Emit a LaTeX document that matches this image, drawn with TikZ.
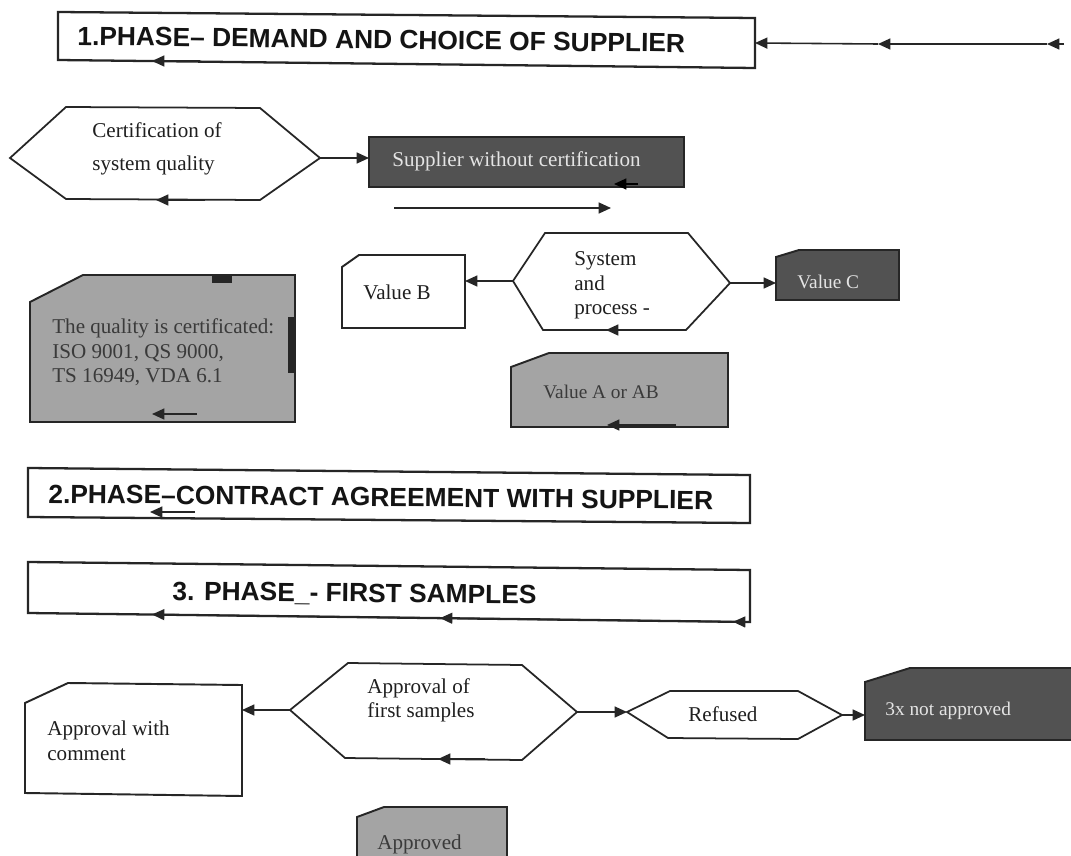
\documentclass[tikz,border=0pt]{standalone}
\usepackage{fontspec}
\setmainfont{Liberation Serif}
\newfontfamily\hdfont{Liberation Sans}
\usetikzlibrary{arrows.meta}
\definecolor{ink}{HTML}{262626}
\definecolor{darkfill}{HTML}{525252}
\definecolor{midfill}{HTML}{A4A4A4}
\definecolor{lighttext}{HTML}{E4E4E4}
\definecolor{midtext}{HTML}{3A3A3A}
\tikzset{
  phasebox/.style={draw=ink, line width=1.3pt, line join=miter},
  box/.style={draw=ink, line width=1.1pt, line join=miter},
  hexa/.style={draw=ink, line width=1pt, line join=miter, fill=white},
  conn/.style={draw=ink, line width=0.9pt, -{Triangle[length=7pt,width=6.2pt]}},
  head/.style={font=\hdfont\bfseries\fontsize{15}{18}\selectfont, anchor=base west, inner sep=0pt, text=black!92},
  lbl/.style={font=\fontsize{12}{14}\selectfont, anchor=base west, inner sep=0pt, text=black!88},
  lbldark/.style={lbl, text=lighttext},
  lblmid/.style={lbl, text=midtext},
  small/.style={font=\fontsize{11}{13}\selectfont},
}
\begin{document}
\begin{tikzpicture}[x=0.02cm,y=-0.02cm]
\useasboundingbox (0,0) rectangle (1071,855);
\clip (0,0) rectangle (1071,855);
\fill[white] (0,0) rectangle (1071,855);

% ---------- Phase 1 ----------
\draw[phasebox] (58,12) -- (755,18) -- (755,68) -- (58,60) -- cycle;
\coordinate (p1e) at (755,43);
\node[head, rotate=-0.7] (p1t) at (77,45) {1.PHASE– DEMAND AND CHOICE OF SUPPLIER};
\coordinate (r1) at (1064,44);
\coordinate (r2) at (1047,44);
\coordinate (r3) at (878,44);
\draw[conn] (r1) -- (r2);
\draw[conn] (r2) -- (r3);
\draw[conn] (r3) -- (p1e);
\coordinate (p1a) at (200,61);
\coordinate (p1b) at (152,61);
\draw[conn] (p1a) -- (p1b);

% ---------- Hexagon A ----------
\draw[hexa] (10,158) coordinate (hAw) -- (66,107) -- (260,108) -- (320,158) coordinate (hAe)
  -- (260,200) -- (66,199) -- cycle;
\node[lbl] (hAt1) at (92,137) {Certification of};
\node[lbl] (hAt2) at (92,170) {system quality};
\coordinate (hAa) at (205,200);
\coordinate (hAb) at (156,200);
\draw[conn] (hAa) -- (hAb);

% ---------- Supplier box ----------
\draw[box, fill=darkfill] (369,137) rectangle (684,187);
\coordinate (supw) at (369,158);
\node[lbldark] (supt) at (392,166) {Supplier without certification};
\coordinate (supa) at (638,184);
\coordinate (supb) at (614,184);
\draw[conn, draw=black] (supa) -- (supb);
\draw[conn] (hAe) -- (supw);
\coordinate (u1) at (394,208);
\coordinate (u2) at (611,208);
\draw[conn] (u1) -- (u2);

% ---------- Hexagon B ----------
\draw[hexa] (513,281) coordinate (hBw) -- (545,233) -- (688,233) -- (730,283) coordinate (hBe)
  -- (686,330) -- (543,330) -- cycle;
\node[lbl] (hBt1) at (574,265) {System};
\node[lbl] (hBt2) at (574,290) {and};
\node[lbl] (hBt3) at (574,314) {process -};
\coordinate (hBa) at (652,330);
\coordinate (hBb) at (606,330);
\draw[conn] (hBa) -- (hBb);

% ---------- Value B ----------
\draw[box, fill=white] (342,267) -- (359,255) -- (465,255) -- (465,328) -- (342,328) -- cycle;
\coordinate (vBe) at (465,281);
\node[lbl] (vBt) at (363,299) {Value B};
\draw[conn] (hBw) -- (vBe);

% ---------- Value C ----------
\draw[box, fill=darkfill] (776,257) -- (799,250) -- (899,250) -- (899,300) -- (776,300) -- cycle;
\coordinate (vCw) at (776,283);
\node[lbldark, small] (vCt) at (797,288) {Value C};
\draw[conn] (hBe) -- (vCw);

% ---------- Value A or AB ----------
\draw[box, fill=midfill] (511,367) -- (549,353) -- (728,353) -- (728,427) -- (511,427) -- cycle;
\node[lblmid, small] (vAt) at (543,398) {Value A or AB};
\coordinate (vAa) at (676,425);
\coordinate (vAb) at (607,425);
\draw[conn] (vAa) -- (vAb);

% ---------- Quality box ----------
\draw[box, fill=midfill] (30,302) -- (83,275) -- (295,275) -- (295,422) -- (30,422) -- cycle;
\fill[ink] (212,274) rectangle (232,283);
\fill[ink] (288,317) rectangle (296,373);
\node[lblmid] (qt1) at (52,333) {The quality is certificated:};
\node[lblmid] (qt2) at (52,358) {ISO 9001, QS 9000,};
\node[lblmid] (qt3) at (52,382) {TS 16949, VDA 6.1};
\coordinate (qa) at (197,414);
\coordinate (qb) at (152,414);
\draw[conn] (qa) -- (qb);

% ---------- Phase 2 ----------
\draw[phasebox] (28,468) -- (750,475) -- (750,523) -- (28,517) -- cycle;
\node[head, rotate=-0.55] (p2t) at (48,503) {2.PHASE–CONTRACT AGREEMENT WITH SUPPLIER};
\coordinate (p2a) at (195,512);
\coordinate (p2b) at (150,512);
\draw[conn] (p2a) -- (p2b);

% ---------- Phase 3 ----------
\draw[phasebox] (28,562) -- (750,570) -- (750,622) -- (28,613) -- cycle;
\node[head, rotate=-0.6] (p3t) at (172,600) {3. PHASE\_- FIRST SAMPLES};
\coordinate (p3a) at (750,622);
\coordinate (p3b) at (733,621.8);
\coordinate (p3c) at (440,618.1);
\coordinate (p3d) at (152,614.5);
\draw[conn] (p3a) -- (p3b);
\draw[conn] (p3b) -- (p3c);
\draw[conn] (p3c) -- (p3d);

% ---------- Hexagon C ----------
\draw[hexa] (290,710) coordinate (hCw) -- (348,663) -- (522,665) -- (577,712) coordinate (hCe)
  -- (522,760) -- (345,758) -- cycle;
\node[lbl] (hCt1) at (367,693) {Approval of};
\node[lbl] (hCt2) at (367,717) {first samples};
\coordinate (hCa) at (485,759);
\coordinate (hCb) at (438,759);
\draw[conn] (hCa) -- (hCb);

% ---------- Approval with comment ----------
\draw[box, fill=white] (25,703) -- (68,683) -- (242,685) -- (242,796) -- (25,793) -- cycle;
\coordinate (awe) at (242,710);
\node[lbl] (awt1) at (47,735) {Approval with};
\node[lbl] (awt2) at (47,760) {comment};
\draw[conn] (hCw) -- (awe);

% ---------- Refused ----------
\draw[hexa] (627,712) coordinate (rfw) -- (670,691) -- (798,691) -- (842,715) coordinate (rfe)
  -- (798,739) -- (668,738) -- cycle;
\node[lbl] (rft) at (688,721) {Refused};
\draw[conn] (hCe) -- (rfw);

% ---------- 3x not approved ----------
\draw[box, fill=darkfill] (865,682) -- (910,668) -- (1076,668) -- (1076,740) -- (865,740) -- cycle;
\coordinate (nxw) at (865,715);
\node[lbldark, small] (nxt) at (885,715) {3x not approved};
\draw[conn] (rfe) -- (nxw);

% ---------- Approved ----------
\draw[box, fill=midfill] (357,817) -- (384,807) -- (507,807) -- (507,870) -- (357,870) -- cycle;
\node[lblmid] (apt) at (377,849) {Approved};
\end{tikzpicture}
\end{document}
